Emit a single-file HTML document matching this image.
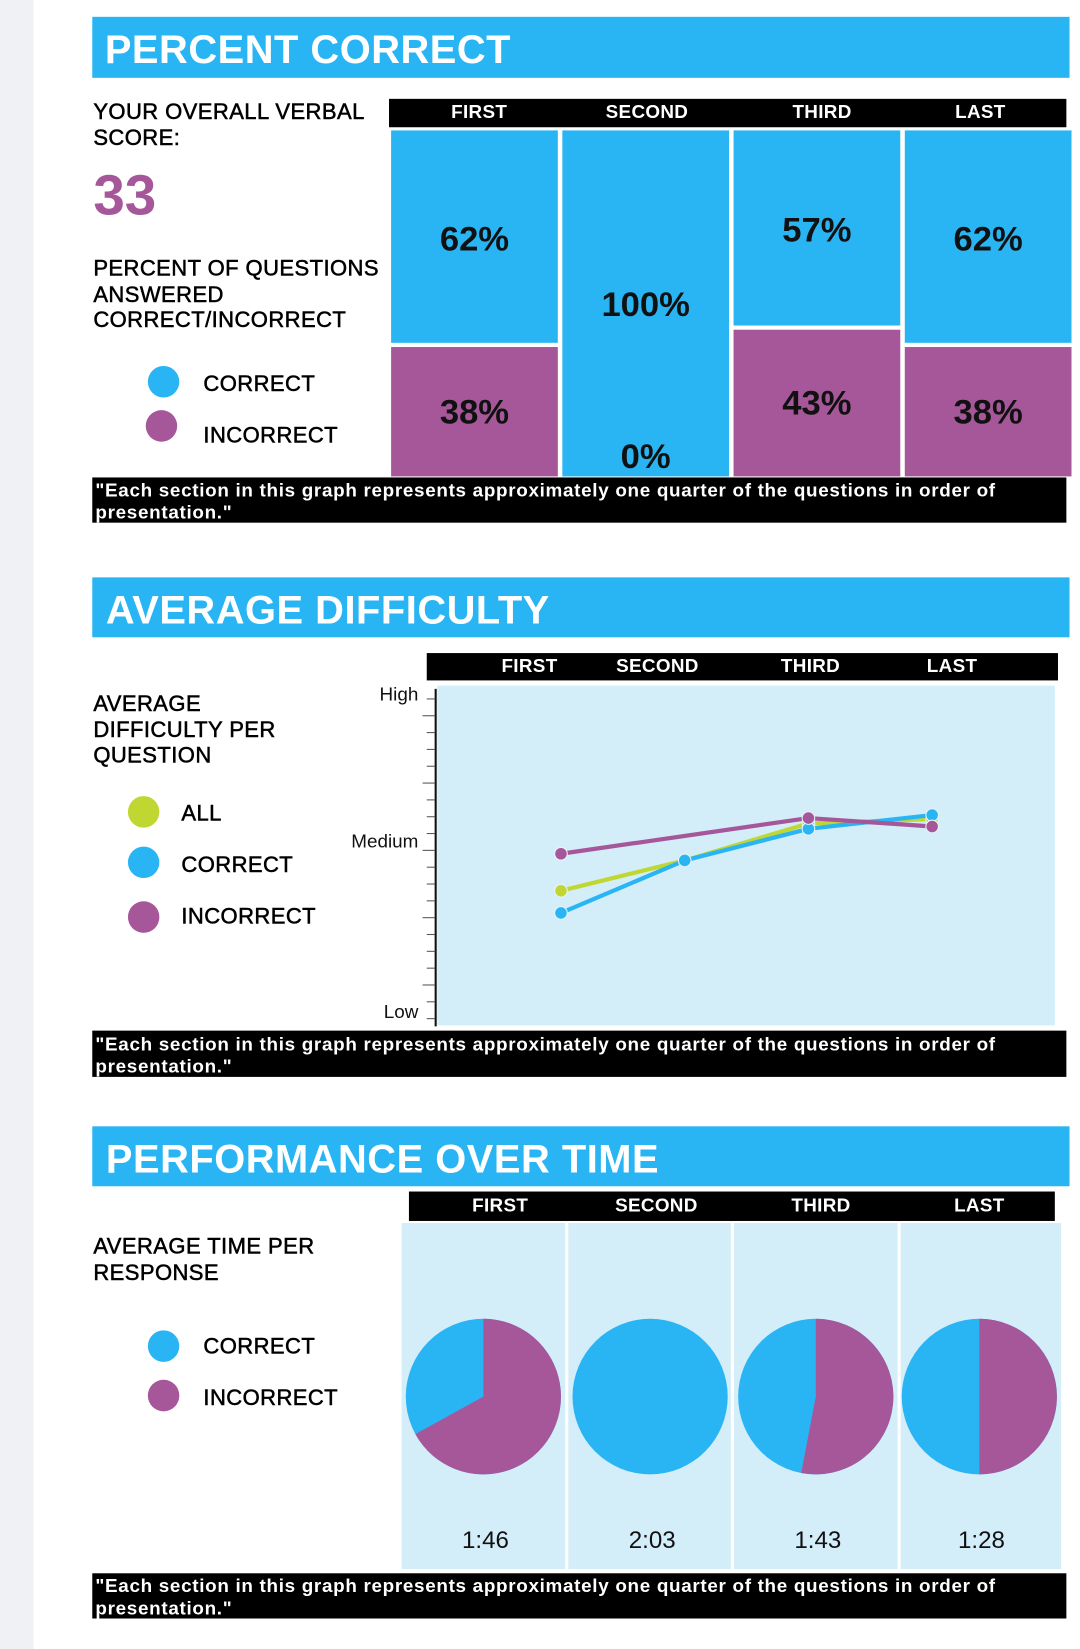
<!DOCTYPE html>
<html><head><meta charset="utf-8"><style>
html,body{margin:0;padding:0;background:#fff;}
svg{display:block;font-family:"Liberation Sans",Arial,sans-serif;}
.lbl{font-size:21px;fill:#000;stroke:#000;stroke-width:0.5;letter-spacing:0.4px;}
.hdr{font-size:38px;font-weight:bold;fill:#fff;letter-spacing:0.5px;}
.col{font-size:18px;font-weight:bold;fill:#fff;letter-spacing:0.3px;}
.note{font-size:18px;font-weight:bold;fill:#fff;letter-spacing:0.65px;}
.pct{font-size:33px;font-weight:bold;fill:#111;}
.ax{font-size:18px;fill:#111;}
.tm{font-size:23px;fill:#111;}
</style></head><body>
<svg id="page" width="1080" height="1649" viewBox="0 0 1030 1568" preserveAspectRatio="none">
<rect x="0" y="0" width="32" height="1568" fill="#f0f1f4"/>

<g>
<rect x="88" y="16" width="932" height="58" fill="#29b5f4"/>
<text x="100" y="60" class="hdr">PERCENT CORRECT</text>
<text x="89" y="113" class="lbl">YOUR OVERALL VERBAL</text>
<text x="89" y="138" class="lbl">SCORE:</text>
<text x="89" y="204" font-size="54" font-weight="bold" fill="#a6579a">33</text>
<text x="89" y="262" class="lbl">PERCENT OF QUESTIONS</text>
<text x="89" y="287" class="lbl">ANSWERED</text>
<text x="89" y="311" class="lbl">CORRECT/INCORRECT</text>
<circle cx="156" cy="363" r="15" fill="#29b5f4"/>
<text x="194" y="372" class="lbl">CORRECT</text>
<circle cx="154" cy="405" r="15" fill="#a6579a"/>
<text x="194" y="421" class="lbl">INCORRECT</text>
<rect x="371" y="94" width="646" height="27" fill="#000"/>
<g id="bars"></g>
<rect x="88" y="454" width="929" height="43" fill="#000"/>
<text x="91" y="472" class="note">"Each section in this graph represents approximately one quarter of the questions in order of</text>
<text x="91" y="493" class="note">presentation."</text>
</g>

<g>
<rect x="88" y="549" width="932" height="57" fill="#29b5f4"/>
<text x="101" y="593" class="hdr">AVERAGE DIFFICULTY</text>
<text x="89" y="676" class="lbl">AVERAGE</text>
<text x="89" y="701" class="lbl">DIFFICULTY PER</text>
<text x="89" y="725" class="lbl">QUESTION</text>
<circle cx="137" cy="772" r="15" fill="#bfd730"/>
<text x="173" y="780" class="lbl">ALL</text>
<circle cx="137" cy="820" r="15" fill="#29b5f4"/>
<text x="173" y="829" class="lbl">CORRECT</text>
<circle cx="137" cy="872" r="15" fill="#a6579a"/>
<text x="173" y="878" class="lbl">INCORRECT</text>
<rect x="407" y="621" width="602" height="26" fill="#000"/>
<rect x="417" y="652" width="589" height="323" fill="#d3edf9"/>
<line x1="415.5" y1="655" x2="415.5" y2="976" stroke="#111" stroke-width="2"/>
<g id="lines"></g>
<rect x="88" y="980" width="929" height="44" fill="#000"/>
<text x="91" y="999" class="note">"Each section in this graph represents approximately one quarter of the questions in order of</text>
<text x="91" y="1020" class="note">presentation."</text>
</g>

<g>
<rect x="88" y="1071" width="932" height="57" fill="#29b5f4"/>
<text x="101" y="1115" class="hdr">PERFORMANCE OVER TIME</text>
<text x="89" y="1192" class="lbl">AVERAGE TIME PER</text>
<text x="89" y="1217" class="lbl">RESPONSE</text>
<circle cx="156" cy="1280" r="15" fill="#29b5f4"/>
<text x="194" y="1287" class="lbl">CORRECT</text>
<circle cx="156" cy="1327" r="15" fill="#a6579a"/>
<text x="194" y="1336" class="lbl">INCORRECT</text>
<rect x="390" y="1133" width="616" height="28" fill="#000"/>
<g id="pies"></g>
<rect x="88" y="1496" width="929" height="43" fill="#000"/>
<text x="91" y="1514" class="note">"Each section in this graph represents approximately one quarter of the questions in order of</text>
<text x="91" y="1535" class="note">presentation."</text>
</g>
</svg>
<script>
const NS = "http://www.w3.org/2000/svg";
const categories = ["FIRST", "SECOND", "THIRD", "LAST"];
const correctPct = [62, 100, 57, 62];
const incorrectPct = [38, 0, 43, 38];
const diffAll = [40, 49, 60, 61.3];
const diffCorrect = [33.4, 49, 58.4, 62.5];
const diffIncorrect = [51, null, 61.6, 59.1];
const yTickLabels = ["Low", "Medium", "High"];
const incorrectTimeShare = [0.67, 0, 0.53, 0.5];
const avgTimes = ["1:46", "2:03", "1:43", "1:28"];

function mk(tag, attrs, parent, txt) {
  const e = document.createElementNS(NS, tag);
  for (const k in attrs) e.setAttribute(k, attrs[k]);
  if (txt !== undefined) e.textContent = txt;
  parent.appendChild(e);
  return e;
}
const BLUE = "#29b5f4", PURPLE = "#a6579a", GREEN = "#bfd730";

const barG = document.getElementById("bars");
const bx = i => 373 + i * 163.3;
const bw = 159, bTop = 124, bBot = 453;
const bScale = p => p / 100 * (bBot - bTop);
const hdrX = [457, 617, 784, 935];
categories.forEach((c, i) => {
  const h = mk("text", {x: hdrX[i], y: 112, "text-anchor": "middle", class: "col"}, barG, c);
  
  
  const ch = bScale(correctPct[i]);
  const r1 = mk("rect", {x: bx(i), y: bTop, width: bw, height: Math.max(0, ch - (incorrectPct[i] > 0 ? 2 : 0)), fill: BLUE}, barG);
  
  
  if (incorrectPct[i] > 0) {
    const r2 = mk("rect", {x: bx(i), y: bTop + ch + 2, width: bw, height: bBot - bTop - ch - 2, fill: PURPLE}, barG);
    
    
  }
  const cx = bx(i) + bw / 2;
  const t1 = mk("text", {x: cx, y: bTop + ch / 2 + 12, "text-anchor": "middle", class: "pct"}, barG, correctPct[i] + "%");
  
  
  const iy = incorrectPct[i] > 0 ? bTop + ch + (bBot - bTop - ch) / 2 + 12 : bBot - 8;
  const t2 = mk("text", {x: cx, y: iy, "text-anchor": "middle", class: "pct"}, barG, incorrectPct[i] + "%");
  
  
});

const lg = document.getElementById("lines");
const lx = i => 535 + i * 118;
const ly = v => 975 - v * 3.2;
const lhX = [505, 627, 773, 908];
categories.forEach((c, i) => {
  const h = mk("text", {x: lhX[i], y: 639, "text-anchor": "middle", class: "col"}, lg, c);
  
  
});
for (let k = 0; k <= 20; k++) {
  const v = 100 - k * 5 - 3;
  if (v < 0) break;
  const major = (k % 4 === 1);
  const t = mk("line", {x1: major ? 403 : 407, x2: 415, y1: ly(v), y2: ly(v), stroke: "#555", "stroke-width": 1}, lg);
  
  
}
yTickLabels.forEach((l, i) => {
  const y = [962, 800, 660][i];
  const t = mk("text", {x: 399, y: y + 6, "text-anchor": "end", class: "ax"}, lg, l);
  
  
});
function series(vals, col, name) {
  const pts = vals.map((v, i) => v === null ? null : [lx(i), ly(v)]).filter(p => p);
  const pl = mk("polyline", {points: pts.map(p => p.join(",")).join(" "), fill: "none", stroke: col, "stroke-width": 4}, lg);
  
  
  pts.forEach(p => {
    const c = mk("circle", {cx: p[0], cy: p[1], r: 6, fill: col, stroke: "#e6f5fc", "stroke-width": 1}, lg);
    
    
  });
}
series(diffAll, GREEN, "all");
series(diffCorrect, BLUE, "correct");
series(diffIncorrect, PURPLE, "incorrect");

const pg = document.getElementById("pies");
const panelX = [383, 542, 700, 859], panelW = [156, 155, 156, 153];
const phX = [477, 626, 783, 934];
const pieCX = [461, 620, 778, 934];
categories.forEach((c, i) => {
  const h = mk("text", {x: phX[i], y: 1152, "text-anchor": "middle", class: "col"}, pg, c);
  
  
  const p = mk("rect", {x: panelX[i], y: 1163, width: panelW[i], height: 329, fill: "#d3edf9"}, pg);
  
  
  const cx = pieCX[i], cy = 1328, r = 74;
  const base = mk("circle", {cx: cx, cy: cy, r: r, fill: BLUE}, pg);
  
  
  const f = incorrectTimeShare[i];
  if (f > 0) {
    const a = f * 2 * Math.PI;
    const ex = cx + r * Math.sin(a), ey = cy - r * Math.cos(a);
    let d;
    if (f >= 1) d = `M${cx},${cy - r}A${r},${r} 0 1 1 ${cx - 0.01},${cy - r}Z`;
    else d = `M${cx},${cy}L${cx},${cy - r}A${r},${r} 0 ${f > 0.5 ? 1 : 0} 1 ${ex},${ey}Z`;
    const s = mk("path", {d: d, fill: PURPLE}, pg);
    
    
  }
  const t = mk("text", {x: cx + 2, y: 1472, "text-anchor": "middle", class: "tm"}, pg, avgTimes[i]);
  
  
});
</script>
</body></html>
